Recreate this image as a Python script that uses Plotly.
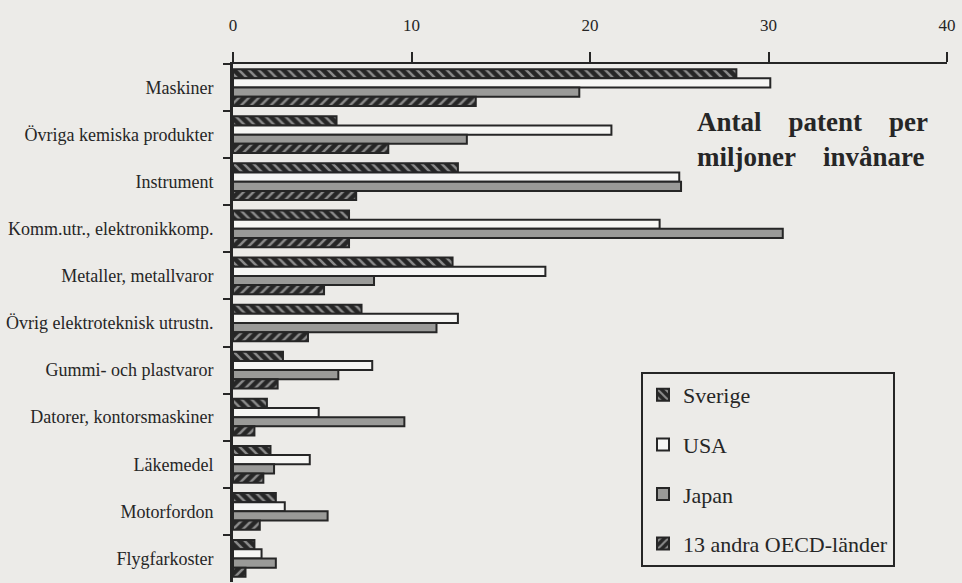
import plotly.graph_objects as go

categories = ["Maskiner", "Övriga kemiska produkter", "Instrument",
              "Komm.utr., elektronikkomp.", "Metaller, metallvaror",
              "Övrig elektroteknisk utrustn.", "Gummi- och plastvaror",
              "Datorer, kontorsmaskiner", "Läkemedel", "Motorfordon",
              "Flygfarkoster"]
sverige = [28.2, 5.8, 12.6, 6.5, 12.3, 7.2, 2.8, 1.9, 2.1, 2.4, 1.2]
usa = [30.1, 21.2, 25.0, 23.9, 17.5, 12.6, 7.8, 4.8, 4.3, 2.9, 1.6]
japan = [19.4, 13.1, 25.1, 30.8, 7.9, 11.4, 5.9, 9.6, 2.3, 5.3, 2.4]
oecd = [13.6, 8.7, 6.9, 6.5, 5.1, 4.2, 2.5, 1.2, 1.7, 1.5, 0.7]
x_ticks = [0, 10, 20, 30, 40]

INK = "#262626"
BG = "#ecebe8"
FONT = "Liberation Serif"

fig = go.Figure()
series = [
    ("Sverige", sverige, dict(color=INK, pattern=dict(shape="\\", fgcolor="#f2f2f2", bgcolor=INK, size=7, solidity=0.35))),
    ("USA", usa, dict(color="#f6f6f4")),
    ("Japan", japan, dict(color="#9a9a98")),
    ("13 andra OECD-länder", oecd, dict(color=INK, pattern=dict(shape="/", fgcolor="#f2f2f2", bgcolor=INK, size=7, solidity=0.35))),
]
for name, vals, mk in series:
    mk = dict(mk)
    mk["line"] = dict(color=INK, width=2)
    fig.add_trace(go.Bar(y=categories, x=vals, name=name, orientation="h",
                         marker=mk, legendgroup=name))

L, R, T, B = 233, 15, 64, 1
W, H = 962, 583
pw, ph = W - L - R, H - T - B

fig.update_layout(
    width=W, height=H,
    margin=dict(l=L, r=R, t=T, b=B, autoexpand=False),
    paper_bgcolor=BG, plot_bgcolor=BG,
    font=dict(family=FONT, color=INK),
    barmode="group", bargap=0.22, bargroupgap=0.0,
    showlegend=True,
    legend=dict(x=(641 - L) / pw, y=(H - B - 372) / ph, xanchor="left", yanchor="top",
                bgcolor=BG, bordercolor=INK, borderwidth=2,
                font=dict(family=FONT, size=22, color=INK),
                tracegroupgap=18, traceorder="grouped"),
    xaxis=dict(side="top", range=[0, 40], tickvals=x_ticks,
               ticktext=[str(v) for v in x_ticks], automargin=False,
               ticks="outside", ticklen=10, tickwidth=2, tickcolor=INK,
               showline=True, linewidth=2, linecolor=INK,
               showgrid=False, zeroline=False, ticklabelstandoff=14,
               tickfont=dict(family=FONT, size=17, color=INK)),
    yaxis=dict(autorange="reversed", tickson="boundaries", automargin=False,
               ticks="outside", ticklen=7, tickwidth=2, tickcolor=INK,
               showline=True, linewidth=3, linecolor=INK,
               showgrid=False, zeroline=False, ticklabelstandoff=13,
               tickfont=dict(family=FONT, size=18, color=INK)),
)

nb = "\u00a0"
title_text = f"Antal{nb*4}patent{nb*4}per<br>miljoner{nb*4}invånare"
fig.add_annotation(text=title_text, xref="paper", yref="paper", align="left",
                   x=(695 - L) / pw, y=(H - B - 139) / ph, xanchor="left", yanchor="middle",
                   showarrow=False, font=dict(family=FONT, size=27, color=INK, weight="bold"))

fig.write_html("out.html", config={"displayModeBar": False},
               post_script=f"document.body.style.margin='0';document.body.style.background='{BG}';")
